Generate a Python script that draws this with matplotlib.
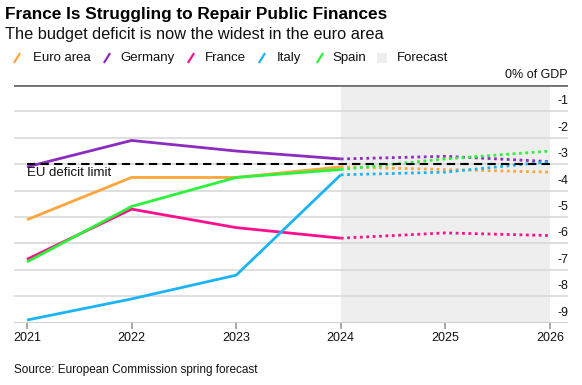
import matplotlib
matplotlib.use("Agg")
import matplotlib.pyplot as plt
from matplotlib.lines import Line2D
from matplotlib.patches import Rectangle
import matplotlib.transforms as mtransforms

plt.rcParams['font.family'] = ['Liberation Sans', 'DejaVu Sans']

years = [2021, 2022, 2023, 2024, 2025, 2026]
actual_end = 2024
series_names = ["Euro area", "Germany", "France", "Italy", "Spain"]
euro_area = [-5.1, -3.5, -3.5, -3.1, -3.2, -3.3]
germany = [-3.1, -2.1, -2.5, -2.8, -2.7, -2.9]
france = [-6.6, -4.7, -5.4, -5.8, -5.6, -5.7]
italy = [-8.9, -8.1, -7.2, -3.4, -3.3, -2.9]
spain = [-6.7, -4.6, -3.5, -3.2, -2.8, -2.5]
values = [euro_area, germany, france, italy, spain]
colors = ["#FFA53C", "#8C2CC0", "#FF0E8E", "#1AB4F5", "#2BF23A"]
eu_limit = -3
yticks = [-1, -2, -3, -4, -5, -6, -7, -8, -9]
ytick_labels = ["-1", "-2", "-3", "-4", "-5", "-6", "-7", "-8", "-9"]

W, H = 582, 385
fig = plt.figure(figsize=(W / 100, H / 100), dpi=100)
ax = fig.add_axes([14 / W, 1 - 322.7 / H, (568 - 14) / W, (322.7 - 85) / H])
ax.set_xlim(2020.876, 2026.172)
ax.set_ylim(-9, 0)
for s in ax.spines.values():
    s.set_visible(False)

# forecast shade
ax.axvspan(actual_end, years[-1], color="#EEEEEE", zorder=0, lw=0)

# gridlines
for y in yticks[:-1]:
    ax.axhline(y, color="#D9D9D9", lw=1.2, zorder=1)
ax.axhline(-9, color="#C8C8C8", lw=1.2, zorder=1)
ax.axhline(0, color="#707070", lw=2, zorder=5)

# series
idx = years.index(actual_end)
for vals, c in zip(values, colors):
    ax.plot(years[:idx + 1], vals[:idx + 1], color=c, lw=2, solid_capstyle='butt', zorder=3)
    ax.plot(years[idx:], vals[idx:], color=c, lw=2, linestyle=(0, (1, 1.3)), zorder=3)

# EU limit
ax.plot([years[0], years[-1]], [eu_limit, eu_limit], color="black", lw=1.5,
        linestyle=(0, (4, 2.5)), zorder=4)
ax.text(years[0], eu_limit - 0.12, "EU deficit limit", ha='left', va='top',
        fontsize=9.5, color="#111111", zorder=6)

# x ticks
ax.set_xticks(years)
ax.set_xticklabels([str(y) for y in years], fontsize=9)
ax.tick_params(axis='x', length=4, color="#999999", width=1.2, pad=3, labelcolor="#111111")
ax.set_yticks([])

# y labels above gridlines on the right
trans = mtransforms.blended_transform_factory(ax.transAxes, ax.transData)
offs = mtransforms.offset_copy(trans, fig=fig, x=0, y=4, units='dots')
for y, lab in zip(yticks, ytick_labels):
    ax.text(1.0, y, lab, transform=offs, ha='right', va='bottom', fontsize=9, color="#111111")
ax.text(1.0, 0, "0% of GDP", transform=offs, ha='right', va='bottom', fontsize=9, color="#111111")

# titles
fig.text(5 / W, 1 - 14 / H, "France Is Struggling to Repair Public Finances",
         fontsize=12.4, fontweight='bold', ha='left', va='center', color="#000000")
fig.text(5 / W, 1 - 35 / H, "The budget deficit is now the widest in the euro area",
         fontsize=11.8, ha='left', va='center', color="#111111")

# legend
leg_y = 1 - 58 / H
icon_x = [17, 107, 191, 262, 320]
text_x = [33, 120.5, 205, 277, 332]
for name, c, ix, tx in zip(series_names, colors, icon_x, text_x):
    fig.add_artist(Line2D([(ix - 2.5) / W, (ix + 2.5) / W], [leg_y - 4 / H, leg_y + 4 / H],
                          transform=fig.transFigure, color=c, lw=1.6))
    fig.text(tx / W, leg_y, name, fontsize=9.5, ha='left', va='center', color="#111111")
fig.add_artist(Rectangle(((382 - 5) / W, leg_y - 5 / H), 10 / W, 10 / H,
                         transform=fig.transFigure, color="#EEEEEE", lw=0))
fig.text(397 / W, leg_y, "Forecast", fontsize=9.5, ha='left', va='center', color="#111111")

fig.text(14 / W, 1 - 370 / H, "Source: European Commission spring forecast",
         fontsize=8.5, ha='left', va='center', color="#111111")

fig.savefig("out.png", dpi=100)
